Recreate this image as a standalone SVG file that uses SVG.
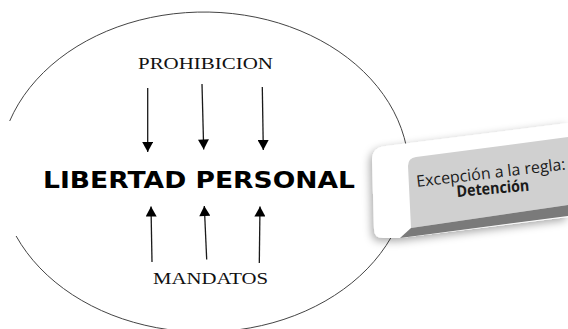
<svg xmlns="http://www.w3.org/2000/svg" width="568" height="329" viewBox="0 0 568 329">
  <defs>
    <style>
      .arrow { stroke: #1a1a1a; stroke-width: 1.3; fill: none; }
      .serif { font-family: "Liberation Serif", "Times New Roman", serif; font-size: 16.5px; fill: #111; }
      .title { font-family: "DejaVu Sans", "Liberation Sans", sans-serif; font-weight: bold; font-size: 22.5px; fill: #000; }
      .box { font-family: "Open Sans", "Noto Sans", sans-serif; font-size: 16px; fill: #1a1a1a; }
    </style>
    <marker id="head" markerUnits="userSpaceOnUse" markerWidth="11" markerHeight="11" refX="10" refY="5.5" orient="auto" viewBox="0 0 10 11">
      <path d="M0,0 L10,5.5 L0,11 Z" fill="#000"/>
    </marker>
    <filter id="shadow" x="-20%" y="-30%" width="140%" height="160%">
      <feDropShadow dx="-2" dy="3" stdDeviation="4" flood-color="#000" flood-opacity="0.35"/>
    </filter>
  </defs>

  <rect width="568" height="329" fill="#fff"/>

  <g id="boundary">
    <path d="M9.7,121 A205,160 0 1 1 16.1,236" fill="none" stroke="#444" stroke-width="1"/>
  </g>

  <g id="prohibicion">
    <text class="serif" x="138" y="69" textLength="135" lengthAdjust="spacingAndGlyphs">PROHIBICION</text>
  </g>

  <g id="libertad">
    <text class="title" x="43" y="188" textLength="312" lengthAdjust="spacingAndGlyphs">LIBERTAD PERSONAL</text>
  </g>

  <g id="mandatos">
    <text class="serif" x="153" y="284" textLength="115" lengthAdjust="spacingAndGlyphs">MANDATOS</text>
  </g>

  <g id="connectors">
    <line class="arrow" x1="147.7" y1="88" x2="147.7" y2="152" marker-end="url(#head)"/>
    <line class="arrow" x1="202" y1="84" x2="203.7" y2="149.5" marker-end="url(#head)"/>
    <line class="arrow" x1="262.3" y1="87" x2="263.3" y2="150" marker-end="url(#head)"/>
    <line class="arrow" x1="152" y1="262" x2="151" y2="206.5" marker-end="url(#head)"/>
    <line class="arrow" x1="206.7" y1="259.5" x2="204.3" y2="206" marker-end="url(#head)"/>
    <line class="arrow" x1="259.3" y1="263" x2="260" y2="206.5" marker-end="url(#head)"/>
  </g>

  <g id="excepcion">
    <path d="M372,160 Q372,147 386,146 L568,123 L568,217 L400,238 L383,238 Q374,238 374,229 Z" fill="#fff" filter="url(#shadow)"/>
    <path d="M408,166 Q408,158 416,157 L568,137 L568,205 L411,228 Z" fill="#d0d0d0"/>
    <path d="M411,228 L568,205 L568,216 L400,238 Z" fill="#7a7a7a"/>
    <text class="box" x="417" y="187" textLength="150" lengthAdjust="spacingAndGlyphs" transform="rotate(-6.7 417 187)">Excepción a la regla:</text>
    <text class="box" x="457" y="197" font-weight="bold" textLength="73" lengthAdjust="spacingAndGlyphs" transform="rotate(-5 457 197)">Detención</text>
  </g>
</svg>
